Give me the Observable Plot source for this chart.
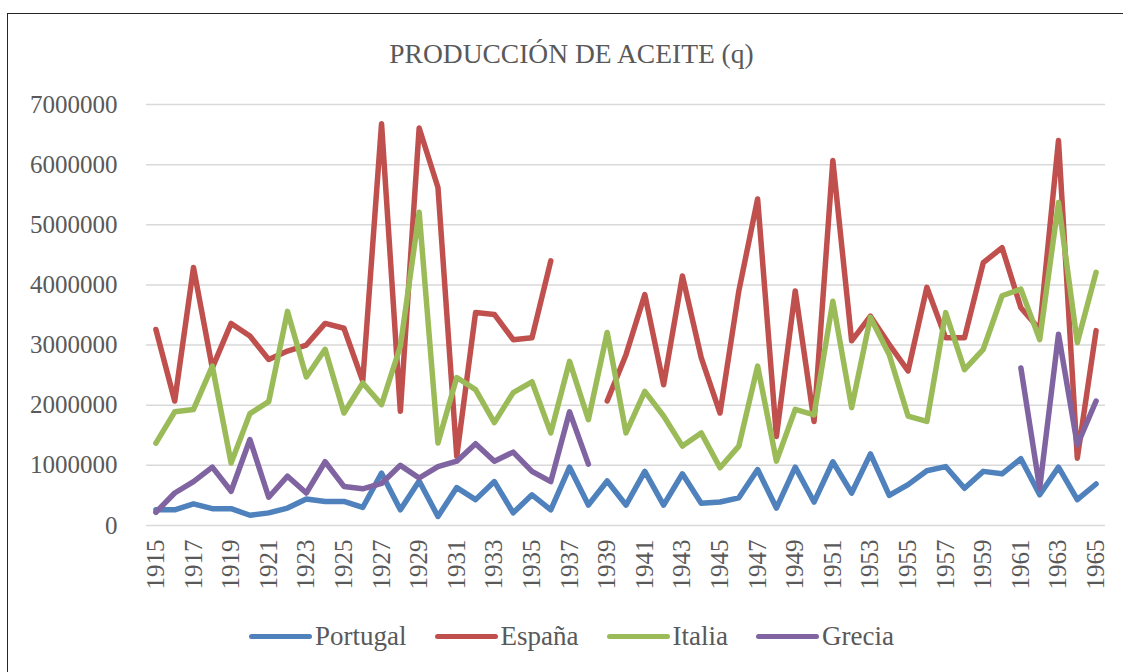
<!DOCTYPE html>
<html>
<head>
<meta charset="utf-8">
<script src="https://cdn.jsdelivr.net/npm/d3@7"></script>
<script src="https://cdn.jsdelivr.net/npm/@observablehq/plot@0.6"></script>
<style>
  html, body { margin: 0; padding: 0; background: #fff; }
  #wrap { position: relative; width: 1123px; height: 672px; overflow: hidden; color: #595959; }
  #wrap, #wrap div, #wrap span, #wrap svg, #wrap svg text { font-family: "Liberation Serif", "Times New Roman", serif !important; }
  #frame { position: absolute; left: 7px; top: 13px; width: 1300px; height: 800px; border-top: 1px solid #262626; border-left: 1px solid #262626; }
  #title { position: absolute; left: 10px; width: 1123px; top: 38px; text-align: center; font-size: 27.5px; line-height: 32px; }
  #chart { position: absolute; left: 0; top: 0; }
  #legend { position: absolute; left: 10px; width: 1123px; top: 620px; display: flex; justify-content: center; align-items: center; gap: 28px; font-size: 27px; line-height: 32px; }
  .item { display: flex; align-items: center; }
  .sw { width: 63px; height: 5px; border-radius: 3px; margin-right: 3px; }
</style>
</head>
<body>
<div id="wrap">
  <div id="frame"></div>
  <div id="chart"></div>
  <div id="title">PRODUCCIÓN DE ACEITE (q)</div>
  <div id="legend"></div>
</div>
<script>
const years = d3.range(1915, 1966);
const seriesNames = ["Portugal", "España", "Italia", "Grecia"];
const seriesColors = ["#4F81BD", "#C0504D", "#9BBB59", "#8064A2"];
const yTicks = [0, 1000000, 2000000, 3000000, 4000000, 5000000, 6000000, 7000000];
const xTicks = years.filter((d, i) => i % 2 === 0);

const portugal = [
  260000, 260000, 360000, 280000, 280000, 170000, 210000, 290000, 440000, 400000, 400000, 300000,
  870000, 260000, 740000, 150000, 630000, 430000, 730000, 210000, 510000, 260000, 970000, 340000,
  740000, 340000, 900000, 340000, 860000, 370000, 390000, 460000, 930000, 290000, 970000, 390000,
  1060000, 540000, 1190000, 500000, 680000, 910000, 980000, 620000, 900000, 860000, 1110000, 510000, 970000, 430000, 690000
];
const espana = [
  3260000, 2070000, 4290000, 2620000, 3360000, 3150000, 2760000, 2900000, 3000000, 3360000, 3280000, 2400000,
  6680000, 1900000, 6610000, 5620000, 1150000, 3540000, 3510000, 3090000, 3120000, 4400000, null, null,
  2070000, 2840000, 3840000, 2340000, 4150000, 2790000, 1870000, 3900000, 5430000, 1480000, 3900000, 1730000,
  6070000, 3070000, 3480000, 3010000, 2570000, 3960000, 3120000, 3120000, 4370000, 4620000, 3620000, 3260000, 6400000, 1120000, 3240000
];
const italia = [
  1370000, 1890000, 1930000, 2650000, 1040000, 1860000, 2060000, 3560000, 2470000, 2930000, 1870000, 2370000,
  2010000, 2980000, 5210000, 1370000, 2460000, 2260000, 1710000, 2210000, 2390000, 1540000, 2730000, 1760000,
  3210000, 1540000, 2230000, 1820000, 1320000, 1540000, 960000, 1320000, 2650000, 1070000, 1930000, 1840000,
  3730000, 1960000, 3460000, 2840000, 1820000, 1730000, 3540000, 2590000, 2930000, 3820000, 3930000, 3090000, 5370000, 3040000, 4210000
];
const grecia = [
  220000, 540000, 730000, 970000, 570000, 1430000, 470000, 820000, 540000, 1060000, 650000, 610000,
  700000, 1000000, 790000, 980000, 1070000, 1360000, 1070000, 1220000, 900000, 730000, 1890000, 1020000,
  null, null, null, null, null, null, null, null, null, null, null, null,
  null, null, null, null, null, null, null, null, null, null, 2620000, 620000, 3180000, 1340000, 2070000
];

const valuesBySeries = [portugal, espana, italia, grecia];
const data = [];
seriesNames.forEach((name, s) => {
  years.forEach((year, i) => {
    data.push({ series: name, year: year, value: valuesBySeries[s][i] });
  });
});

const chart = Plot.plot({
  width: 1123,
  height: 620,
  marginLeft: 146,
  marginRight: 18,
  marginTop: 104,
  marginBottom: 95,
  style: { fontFamily: "Liberation Serif", fontSize: "25px", color: "#595959", background: "transparent" },
  x: { type: "point", domain: years, padding: 0.5, label: null },
  y: { domain: [0, 7000000], label: null },
  color: { domain: seriesNames, range: seriesColors },
  marks: [
    Plot.gridY(yTicks, { stroke: "#d9d9d9", strokeOpacity: 1, strokeWidth: 1.5 }),
    Plot.axisY(yTicks, { tickSize: 0, tickPadding: 29, tickFormat: d => String(d), fontSize: 25, label: null }),
    Plot.axisX(xTicks, { tickSize: 0, tickRotate: -90, tickPadding: 14, tickFormat: d => String(d), fontSize: 25, label: null }),
    Plot.lineY(data, { x: "year", y: "value", z: "series", stroke: "series", strokeWidth: 5.5, strokeLinejoin: "round", strokeLinecap: "round" })
  ]
});
document.getElementById("chart").appendChild(chart);

const legend = document.getElementById("legend");
seriesNames.forEach((name, i) => {
  const item = document.createElement("div");
  item.className = "item";
  const sw = document.createElement("div");
  sw.className = "sw";
  sw.style.background = seriesColors[i];
  const label = document.createElement("span");
  label.textContent = name;
  item.appendChild(sw);
  item.appendChild(label);
  legend.appendChild(item);
});
</script>
</body>
</html>
